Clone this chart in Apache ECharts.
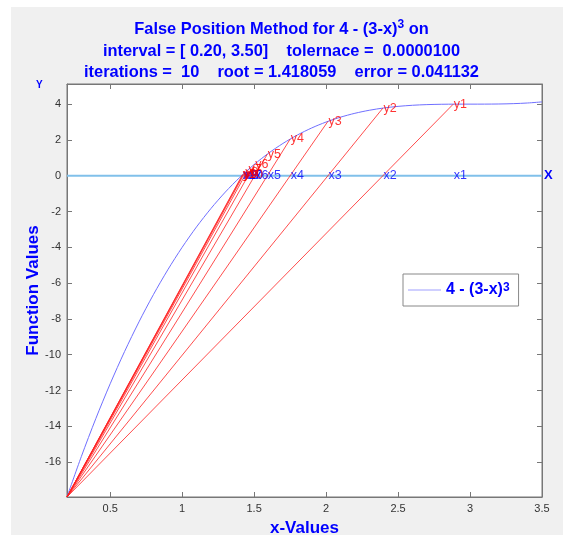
<!DOCTYPE html>
<html>
<head>
<meta charset="utf-8">
<script src="https://cdn.jsdelivr.net/npm/echarts@6/dist/echarts.min.js"></script>
<style>
  html, body { margin: 0; background: #fff; }
  #paper { position: absolute; left: 11px; top: 7px; width: 552px; height: 528px; background: #f0f0f0; }
  #chart { position: absolute; left: 0; top: 0; width: 563px; height: 535px; }
</style>
</head>
<body>
<div id="paper"></div>
<div id="chart"></div>
<script>
// f(x) = 4 - (3-x)^3 sampled on [0.2, 3.5]
const curveX = [0.2, 0.3, 0.4, 0.5, 0.6, 0.7, 0.8, 0.9, 1.0, 1.1, 1.2, 1.3, 1.4, 1.5, 1.6, 1.7, 1.8,
  1.9, 2.0, 2.1, 2.2, 2.3, 2.4, 2.5, 2.6, 2.7, 2.8, 2.9, 3.0, 3.1, 3.2, 3.3, 3.4, 3.5];
const curveY = [-17.952, -15.683, -13.576, -11.625, -9.824, -8.167, -6.648, -5.261, -4, -2.859,
  -1.832, -0.913, -0.096, 0.625, 1.256, 1.803, 2.272, 2.669, 3, 3.271, 3.488, 3.657, 3.784,
  3.875, 3.936, 3.973, 3.992, 3.999, 4, 4.001, 4.008, 4.027, 4.064, 4.125];

// false position iterates
const iterX = [2.88341, 2.39461, 2.01304, 1.75058, 1.59169, 1.50403, 1.45832, 1.43522, 1.42373, 1.41806];
const iterY = [3.99842, 3.77812, 3.03861, 2.04963, 1.20681, 0.65211, 0.33577, 0.16858, 0.08355, 0.04115];
const anchor = [0.2, -17.952];
const zeroLine = [[0.2, 0], [3.5, 0]];

const xTicks = [0.5, 1, 1.5, 2, 2.5, 3, 3.5];
const yTicks = [-16, -14, -12, -10, -8, -6, -4, -2, 0, 2, 4];

const font = "Liberation Sans";
const blue = "#0000ff";
const curveName = "4 - (3-x)^3";

let chart = echarts.init(document.getElementById("chart"));

let series = [];
series.push({
  name: curveName,
  type: "line",
  data: curveX.map((x, i) => [x, curveY[i]]),
  smooth: 0.3,
  showSymbol: false,
  lineStyle: { color: "#6f6fff", width: 1 },
  itemStyle: { color: "#6f6fff" },
  z: 3,
});
series.push({
  type: "line",
  data: zeroLine,
  showSymbol: false,
  lineStyle: { color: "#80c0ea", width: 2 },
  endLabel: { show: true, formatter: "X", color: blue, fontWeight: "bold", fontSize: 13, fontFamily: font, distance: 2 },
  z: 2,
});
iterX.forEach((x, i) => {
  series.push({
    type: "line",
    data: [anchor, [x, iterY[i]]],
    showSymbol: false,
    lineStyle: { color: "#ff2020", width: 1, opacity: 0.8 },
    z: 4,
  });
});
series.push({
  type: "scatter",
  data: iterX.map((x, i) => [x, 0, "x" + (i + 1)]),
  symbolSize: 1,
  itemStyle: { color: "rgba(0,0,0,0)" },
  label: { show: true, position: "right", distance: 0, formatter: (p) => p.data[2], color: blue, fontSize: 12.5, fontFamily: font },
  z: 5,
});
series.push({
  type: "scatter",
  data: iterX.map((x, i) => [x, iterY[i], "y" + (i + 1)]),
  symbolSize: 1,
  itemStyle: { color: "rgba(0,0,0,0)" },
  label: { show: true, position: "right", distance: 0, formatter: (p) => p.data[2], color: "#ff0000", fontSize: 12.5, fontFamily: font },
  z: 5,
});

let tickStyle = { inside: true, length: 5, lineStyle: { color: "#777" } };
let lineStyle = { show: true, onZero: false, lineStyle: { color: "#777" } };

let option = {
  animation: false,
  backgroundColor: "transparent",
  title: {
    left: "center",
    top: 14,
    text: "False Position Method for 4 - (3-x){sup|3} on\ninterval = [ 0.20, 3.50]    tolernace =  0.0000100\niterations =  10    root = 1.418059    error = 0.041132",
    textStyle: {
      fontSize: 16.4, fontWeight: "bold", color: blue, fontFamily: font, lineHeight: 21.5,
      rich: { sup: { fontSize: 12, fontWeight: "bold", color: blue, fontFamily: font, verticalAlign: "top", lineHeight: 11 } },
    },
  },
  legend: {
    data: [curveName],
    left: 403,
    top: 274,
    backgroundColor: "#fff",
    borderColor: "#888",
    borderWidth: 1,
    padding: [8, 9, 8, 5],
    itemWidth: 33,
    itemHeight: 10,
    itemGap: 6,
    icon: "path://M0,4.5L32,4.5L32,5.5L0,5.5Z",
    itemStyle: { color: "#a0a0ff" },
    formatter: () => "4 - (3-x){sup|3}",
    textStyle: {
      fontSize: 16, fontWeight: "bold", color: blue, fontFamily: font,
      rich: { sup: { fontSize: 12, fontWeight: "bold", color: blue, fontFamily: font, verticalAlign: "top", lineHeight: 10 } },
    },
  },
  grid: {
    left: 67, right: 21, top: 84, bottom: 38,
    outerBoundsMode: "none",
    show: true, backgroundColor: "#fff", borderColor: "#777", borderWidth: 1,
  },
  xAxis: [
    {
      type: "value", min: 0.2, max: 3.5,
      name: "x-Values", nameLocation: "middle", nameGap: 23, nameMoveOverlap: false,
      nameTextStyle: { fontSize: 17, fontWeight: "bold", color: blue, fontFamily: font },
      axisLine: lineStyle,
      axisTick: Object.assign({ customValues: xTicks }, tickStyle),
      axisLabel: { customValues: xTicks, color: "#333", fontSize: 11, fontFamily: font, margin: 6 },
      splitLine: { show: false },
    },
    {
      type: "value", min: 0.2, max: 3.5, position: "top",
      axisLine: lineStyle,
      axisTick: Object.assign({ customValues: xTicks }, tickStyle),
      axisLabel: { show: false },
      splitLine: { show: false },
    },
  ],
  yAxis: [
    {
      type: "value", min: -17.952, max: 5.125,
      name: "Function Values", nameLocation: "middle", nameGap: 25, nameRotate: 90, nameMoveOverlap: false,
      nameTextStyle: { fontSize: 17, fontWeight: "bold", color: blue, fontFamily: font },
      axisLine: lineStyle,
      axisTick: Object.assign({ customValues: yTicks }, tickStyle),
      axisLabel: { customValues: yTicks, color: "#333", fontSize: 11, fontFamily: font, margin: 6 },
      splitLine: { show: false },
    },
    {
      type: "value", min: -17.952, max: 5.125, position: "right",
      axisLine: lineStyle,
      axisTick: Object.assign({ customValues: yTicks }, tickStyle),
      axisLabel: { show: false },
      splitLine: { show: false },
    },
  ],
  graphic: [
    {
      type: "text", left: 36, top: 80,
      style: { text: "Y", fill: blue, font: "bold 10px " + font },
    },
  ],
  series: series,
};
option && chart.setOption(option);
</script>
</body>
</html>
